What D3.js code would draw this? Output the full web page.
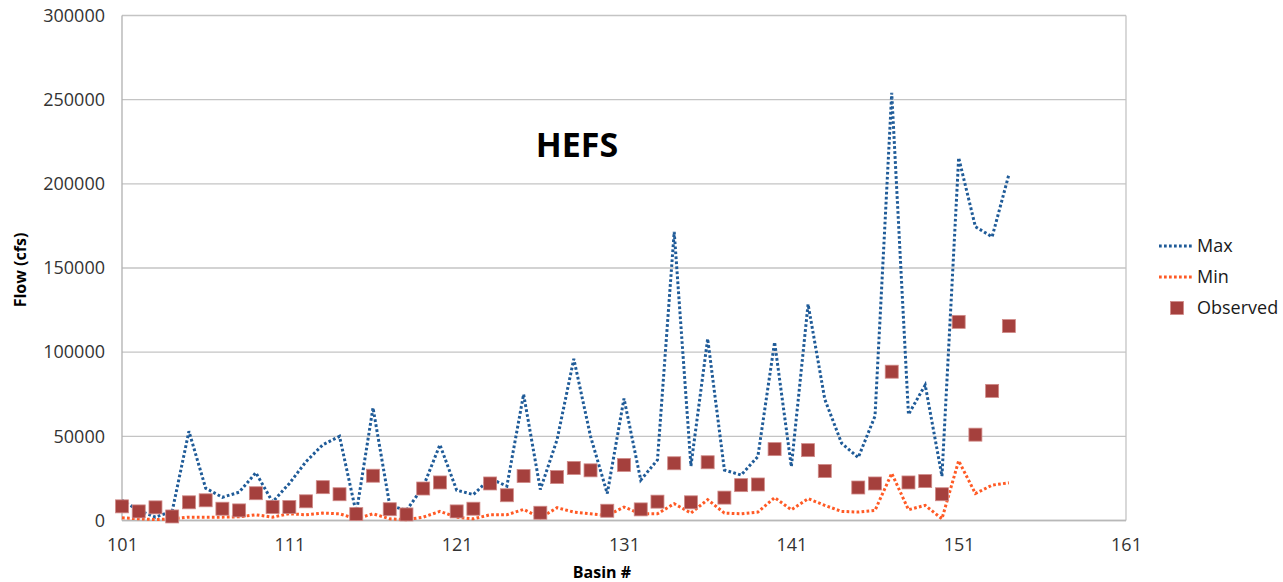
<!DOCTYPE html>
<html>
<head>
<meta charset="utf-8">
<script src="https://cdn.jsdelivr.net/npm/d3@7"></script>
<style>
  html, body { margin: 0; padding: 0; background: #fff; }
  svg { display: block; font-family: "Open Sans", "Liberation Sans", sans-serif; }
</style>
</head>
<body>
<svg id="chart" width="1283" height="582"></svg>
<script>
// Basin numbers 101..154
const basins = [101,102,103,104,105,106,107,108,109,110,111,112,113,114,115,116,117,118,119,120,
  121,122,123,124,125,126,127,128,129,130,131,132,133,134,135,136,137,138,139,140,
  141,142,143,144,145,146,147,148,149,150,151,152,153,154];

// Ensemble maximum flow (cfs)
const maxFlow = [12000,6000,2000,5500,53000,19200,13800,16800,28400,11000,22000,35000,45000,50000,4200,67000,9000,6000,20000,45000,
  18000,15400,25000,20400,75000,18400,48000,96000,50000,16000,72500,24000,36000,171500,32400,108000,30000,27000,38000,106000,
  32000,128500,72000,46000,37400,62000,254000,63000,80500,26400,215500,174500,168500,205500];

// Ensemble minimum flow (cfs)
const minFlow = [1600,1000,500,1000,2000,2000,2000,2200,3400,2000,4000,3400,4400,4000,1000,4000,1000,500,2000,5400,
  2000,1000,3400,3400,6600,1600,7600,5000,4000,3000,8000,4000,4000,10000,4400,12400,4400,4000,5000,13600,
  6400,13000,9000,5400,5000,6000,28000,6400,9000,1000,35500,16000,21000,22400];

// Observed flow (cfs); null where no observation exists
const observed = [8400,5400,7800,2400,10800,12000,7000,6000,16200,8000,8000,11400,19800,15600,3800,26600,6700,3600,19000,22600,
  5400,7000,22000,15000,26400,4600,25800,31200,29800,5800,33000,6600,11200,34000,10800,34600,13600,21000,21400,42400,
  null,41800,29400,null,19600,22000,88400,22600,23400,15600,118000,51000,77000,115500];

const xTicks = [101,111,121,131,141,151,161];
const yTicks = [0,50000,100000,150000,200000,250000,300000];

const seriesNames = ["Max", "Min", "Observed"];
const colors = { max: "#1f5b98", min: "#ff5a25", obs: "#a5403d", obsStroke: "#d08a88" };

const svg = d3.select("#chart");
const plot = { left: 122, right: 1126, top: 15.5, bottom: 520.5 };

const x = d3.scaleLinear().domain([101, 161]).range([plot.left, plot.right]);
const y = d3.scaleLinear().domain([0, 300000]).range([plot.bottom, plot.top]);

// Horizontal gridlines
svg.append("g")
  .selectAll("line")
  .data(yTicks)
  .join("line")
  .attr("x1", plot.left).attr("x2", plot.right)
  .attr("y1", d => y(d)).attr("y2", d => y(d))
  .attr("stroke", "#c4c4c4").attr("stroke-width", 1.3);

// Plot frame: left axis line, right edge, baseline
svg.append("line")
  .attr("x1", plot.left).attr("x2", plot.left)
  .attr("y1", plot.top).attr("y2", plot.bottom)
  .attr("stroke", "#b0b0b0").attr("stroke-width", 1.3);
svg.append("line")
  .attr("x1", plot.right).attr("x2", plot.right)
  .attr("y1", plot.top).attr("y2", plot.bottom)
  .attr("stroke", "#c4c4c4").attr("stroke-width", 1.3);
svg.append("line")
  .attr("x1", plot.left).attr("x2", plot.right)
  .attr("y1", plot.bottom).attr("y2", plot.bottom)
  .attr("stroke", "#b8b8b8").attr("stroke-width", 1.3);

// Axes (labels only)
const yAxis = d3.axisLeft(y).tickValues(yTicks).tickSize(0).tickPadding(17).tickFormat(d3.format("d"));
const gy = svg.append("g").attr("transform", `translate(${plot.left},0)`).call(yAxis);
gy.select(".domain").remove();
gy.selectAll("text").attr("font-size", 18).attr("fill", "#333")
  .attr("font-family", "'Open Sans', sans-serif");

const xAxis = d3.axisBottom(x).tickValues(xTicks).tickSize(0).tickPadding(18).tickFormat(d3.format("d"));
const gx = svg.append("g").attr("transform", `translate(0,${plot.bottom})`).call(xAxis);
gx.select(".domain").remove();
gx.selectAll("text").attr("font-size", 18).attr("fill", "#333")
  .attr("font-family", "'Open Sans', sans-serif");

// Dotted lines for Max and Min
const pts = (vals) => basins.map((b, i) => ({ b, v: vals[i] }));
const line = d3.line().x(d => x(d.b)).y(d => y(d.v));

svg.append("path")
  .datum(pts(maxFlow))
  .attr("d", line)
  .attr("fill", "none")
  .attr("stroke", colors.max)
  .attr("stroke-width", 3)
  .attr("stroke-dasharray", "2.7,2.3");

svg.append("path")
  .datum(pts(minFlow))
  .attr("d", line)
  .attr("fill", "none")
  .attr("stroke", colors.min)
  .attr("stroke-width", 3)
  .attr("stroke-dasharray", "2.7,2.3");

// Observed markers
const sq = 13;
svg.append("g")
  .selectAll("rect")
  .data(pts(observed).filter(d => d.v !== null))
  .join("rect")
  .attr("x", d => x(d.b) - sq / 2)
  .attr("y", d => y(d.v) - sq / 2)
  .attr("width", sq).attr("height", sq)
  .attr("fill", colors.obs)
  .attr("stroke", colors.obsStroke).attr("stroke-width", 0.8);

// Title
svg.append("text")
  .attr("x", 577).attr("y", 157)
  .attr("text-anchor", "middle")
  .attr("font-size", 34).attr("font-weight", 700)
  .attr("fill", "#000")
  .text("HEFS");

// Axis titles
svg.append("text")
  .attr("transform", "translate(26,270) rotate(-90)")
  .attr("text-anchor", "middle")
  .attr("font-size", 16).attr("font-weight", 700)
  .attr("fill", "#000")
  .text("Flow (cfs)");

svg.append("text")
  .attr("x", 602).attr("y", 578)
  .attr("text-anchor", "middle")
  .attr("font-size", 16).attr("font-weight", 700)
  .attr("fill", "#000")
  .text("Basin #");

// Legend
const legend = svg.append("g");
const legY = [246, 277, 308];
legend.append("line")
  .attr("x1", 1159).attr("x2", 1193).attr("y1", legY[0]).attr("y2", legY[0])
  .attr("stroke", colors.max).attr("stroke-width", 3).attr("stroke-dasharray", "2.7,2.3");
legend.append("line")
  .attr("x1", 1159).attr("x2", 1193).attr("y1", legY[1]).attr("y2", legY[1])
  .attr("stroke", colors.min).attr("stroke-width", 3).attr("stroke-dasharray", "2.7,2.3");
legend.append("rect")
  .attr("x", 1177 - sq / 2).attr("y", legY[2] - sq / 2)
  .attr("width", sq).attr("height", sq)
  .attr("fill", colors.obs).attr("stroke", colors.obsStroke).attr("stroke-width", 0.8);
legend.selectAll("text.leg")
  .data(seriesNames)
  .join("text")
  .attr("class", "leg")
  .attr("x", 1197)
  .attr("y", (d, i) => legY[i])
  .attr("dy", "0.35em")
  .attr("font-size", 18)
  .attr("fill", "#1a1a1a")
  .text(d => d);
</script>
</body>
</html>
